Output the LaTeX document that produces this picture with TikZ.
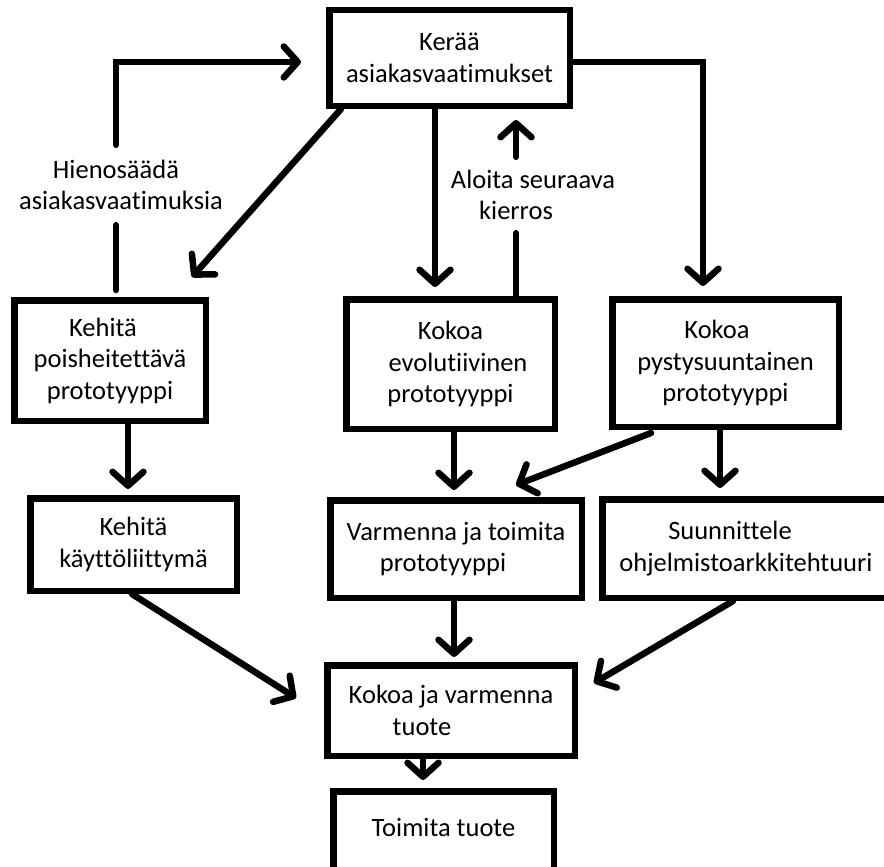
\documentclass[tikz,border=0pt]{standalone}
\usepackage{fontspec}
\setmainfont{Carlito}[Ligatures=NoCommon]
\usetikzlibrary{arrows.meta}
\begin{document}
\begin{tikzpicture}[x=1pt,y=-1pt,
  every node/.style={font=\fontsize{26.5}{31.5}\selectfont, inner sep=0pt},
  stepbox/.style={draw, rectangle, line width=6.5pt, align=center},
  note/.style={align=center},
  link/.style={line width=6.5pt, line cap=round, line join=miter},
  arr/.style={link, -{Straight Barb[length=14pt,width=31pt,round]}},
]
\fill[white] (0,0) rectangle (884,867);
\useasboundingbox (0,0) rectangle (884,867);

% process steps
\node[stepbox, minimum width=240.5pt, minimum height=95.5pt] (b1) at (449.5,58)
  {Kerää\\asiakasvaatimukset};
\node[stepbox, minimum width=191.5pt, minimum height=120.5pt] (b2) at (110,360.5)
  {Kehitä\hspace*{14pt}\\poisheitettävä\\prototyyppi};
\node[stepbox, minimum width=208.5pt, minimum height=129.5pt] (b3) at (450.5,364)
  {Kokoa\\\hspace*{15pt}evolutiivinen\\prototyyppi};
\node[stepbox, minimum width=226.5pt, minimum height=127.5pt] (b4) at (725.5,363)
  {Kokoa\hspace*{17pt}\\pystysuuntainen\\prototyyppi};
\node[stepbox, minimum width=206.5pt, minimum height=92.5pt] (b5) at (133.5,544.5)
  {Kehitä\\käyttöliittymä};
\node[stepbox, minimum width=251.5pt, minimum height=97.5pt] (b6) at (456,549)
  {Varmenna ja toimita\\prototyyppi\hspace*{26pt}};
\node[stepbox, minimum width=287.5pt, minimum height=98.5pt] (b7) at (746,548.5)
  {Suunnittele\hspace*{32pt}\\ohjelmistoarkkitehtuuri};
\node[stepbox, minimum width=247.5pt, minimum height=90.5pt] (b8) at (451,710.5)
  {Kokoa ja varmenna\\tuote\hspace*{58pt}};
\node[stepbox, minimum width=220.5pt, minimum height=83.5pt, text depth=12pt] (b9) at (443.5,833)
  {Toimita tuote};

% loop labels
\node[note, minimum height=74pt] (tune) at (116,185)
  {Hienosäädä\\\hspace*{10pt}asiakasvaatimuksia};
\node[note, minimum height=70pt] (next) at (516,195)
  {\hspace*{34pt}Aloita seuraava\\kierros};

% refinement loop back to requirements
\draw[link, shorten <=7pt, shorten >=3pt] ([xshift=6pt]b2.north) -- (tune.south);
\draw[arr, shorten <=3pt, shorten >=25pt] (tune.north) |- ([yshift=-4pt]b1.west);

% requirements to the three prototype routes
\draw[arr] ([xshift=15pt]b1.south west) -- ([xshift=-17pt,yshift=20pt]b2.north east);
\draw[arr, shorten >=9pt] ([xshift=-14.5pt]b1.south) -- ([xshift=-15.5pt]b3.north);
\draw[arr, shorten >=10pt] ([yshift=-4pt]b1.east) -| ([xshift=-22.5pt]b4.north);

% next iteration
\draw[link, shorten >=3pt] ([xshift=65.5pt]b3.north) -- (next.south);
\draw[arr, shorten <=3pt, shorten >=11pt] (next.north) -- ([xshift=66.5pt]b1.south);

% middle row
\draw[arr, shorten >=6pt] ([xshift=18pt]b2.south) -- ([xshift=-5.5pt]b5.north);
\draw[arr, shorten >=7pt] ([xshift=3.5pt]b3.south) -- ([xshift=-2pt]b6.north);
\draw[arr] ([xshift=42pt,yshift=-3pt]b4.south west) -- ([xshift=-69pt,yshift=12pt]b6.north east);
\draw[arr, shorten >=8pt] ([xshift=-5.5pt]b4.south) -- ([xshift=-26pt]b7.north);

% towards the product
\draw[arr] ([xshift=-1.5pt]b5.south) -- ([xshift=-28pt,yshift=12.5pt]b8.west);
\draw[arr, shorten >=5pt] ([xshift=-2pt]b6.south) -- ([xshift=3pt]b8.north);
\draw[arr] ([xshift=-13pt]b7.south) -- ([xshift=16pt,yshift=27.5pt]b8.east);
\draw[arr, shorten >=8pt] ([xshift=-28pt]b8.south) -- ([xshift=-20.5pt]b9.north);
\end{tikzpicture}
\end{document}
